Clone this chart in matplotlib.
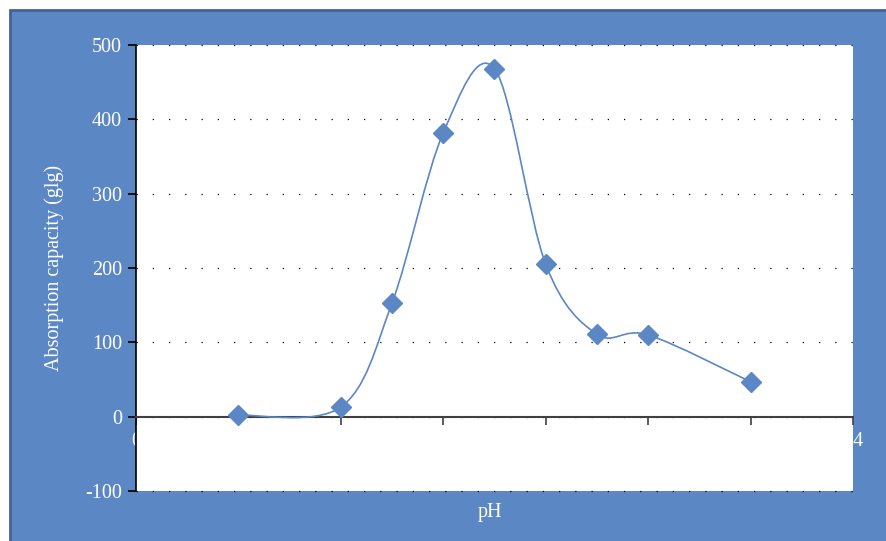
import numpy as np
import matplotlib.pyplot as plt
from matplotlib.path import Path
from matplotlib.patches import PathPatch, Rectangle

# data
ph = [2, 4, 5, 6, 7, 8, 9, 10, 12]
capacity = [2, 13, 153, 382, 468, 205, 111, 110, 47]

y_ticks = [-100, 0, 100, 200, 300, 400, 500]
x_ticks = [0, 2, 4, 6, 8, 10, 12, 14]

blue = '#5b87c4'
frame_edge = '#40649a'

plt.rcParams['font.family'] = ['Liberation Serif', 'DejaVu Serif']
plt.rcParams['axes.unicode_minus'] = False

W, H = 887, 541
fig = plt.figure(figsize=(W / 100, H / 100), dpi=100, facecolor='white')

# blue panel behind the chart
fig.patches.append(Rectangle((10 / W, -0.01), 1.0, 1 - 10 / H + 0.01,
                             transform=fig.transFigure, facecolor=blue,
                             edgecolor=frame_edge, linewidth=2, zorder=-10))

ax = fig.add_axes([136 / W, 50 / H, 717 / W, 446 / H])
ax.set_facecolor('white')
ax.set_xlim(0, 14)
ax.set_ylim(-100, 500)

# smooth line, Excel-like bezier through the points
x = np.array(ph, dtype=float)
y = np.array(capacity, dtype=float)
n = len(x)
verts = [(x[0], y[0])]
codes = [Path.MOVETO]
for i in range(n - 1):
    x0, y0 = (x[i - 1], y[i - 1]) if i > 0 else (x[i], y[i])
    x3, y3 = (x[i + 2], y[i + 2]) if i + 2 < n else (x[i + 1], y[i + 1])
    c1 = (x[i] + (x[i + 1] - x0) / 6, y[i] + (y[i + 1] - y0) / 6)
    c2 = (x[i + 1] - (x3 - x[i]) / 6, y[i + 1] - (y3 - y[i]) / 6)
    verts += [c1, c2, (x[i + 1], y[i + 1])]
    codes += [Path.CURVE4] * 3
ax.add_patch(PathPatch(Path(verts, codes), facecolor='none',
                       edgecolor=blue, linewidth=1.2, zorder=3))

ax.plot(ph, capacity, linestyle='none', marker='D', markersize=10.5,
        color=blue, markeredgecolor=blue, zorder=4)

# axes styling
for s in ['top', 'right']:
    ax.spines[s].set_visible(False)
ax.spines['bottom'].set_position(('data', 0))
ax.spines['bottom'].set_color('#404040')
ax.spines['bottom'].set_linewidth(1.5)
ax.spines['left'].set_color('black')
ax.spines['left'].set_linewidth(1.2)

ax.set_yticks(y_ticks)
ax.set_xticks(x_ticks)
ax.tick_params(axis='y', direction='out', length=6, width=1.2, color='black',
               labelcolor='white', labelsize=14.5, pad=4)
ax.tick_params(axis='x', direction='out', length=6, width=1.2, color='#404040',
               labelcolor='white', labelsize=14.5, pad=5)

ax.grid(axis='y', color='black', linewidth=0.9, linestyle=(0, (1, 12)))
for gl in ax.get_ygridlines():
    gl.set_clip_on(False)
ax.set_axisbelow(True)

fig.text(490 / W, 1 - 512 / H, 'pH', color='white', fontsize=14.5,
         ha='center', va='center')
fig.text(54 / W, 1 - 268 / H, 'Absorption capacity (glg)', color='white',
         fontsize=14.5, rotation=90, ha='center', va='center')

fig.savefig('out.png', dpi=100, facecolor=fig.get_facecolor())
